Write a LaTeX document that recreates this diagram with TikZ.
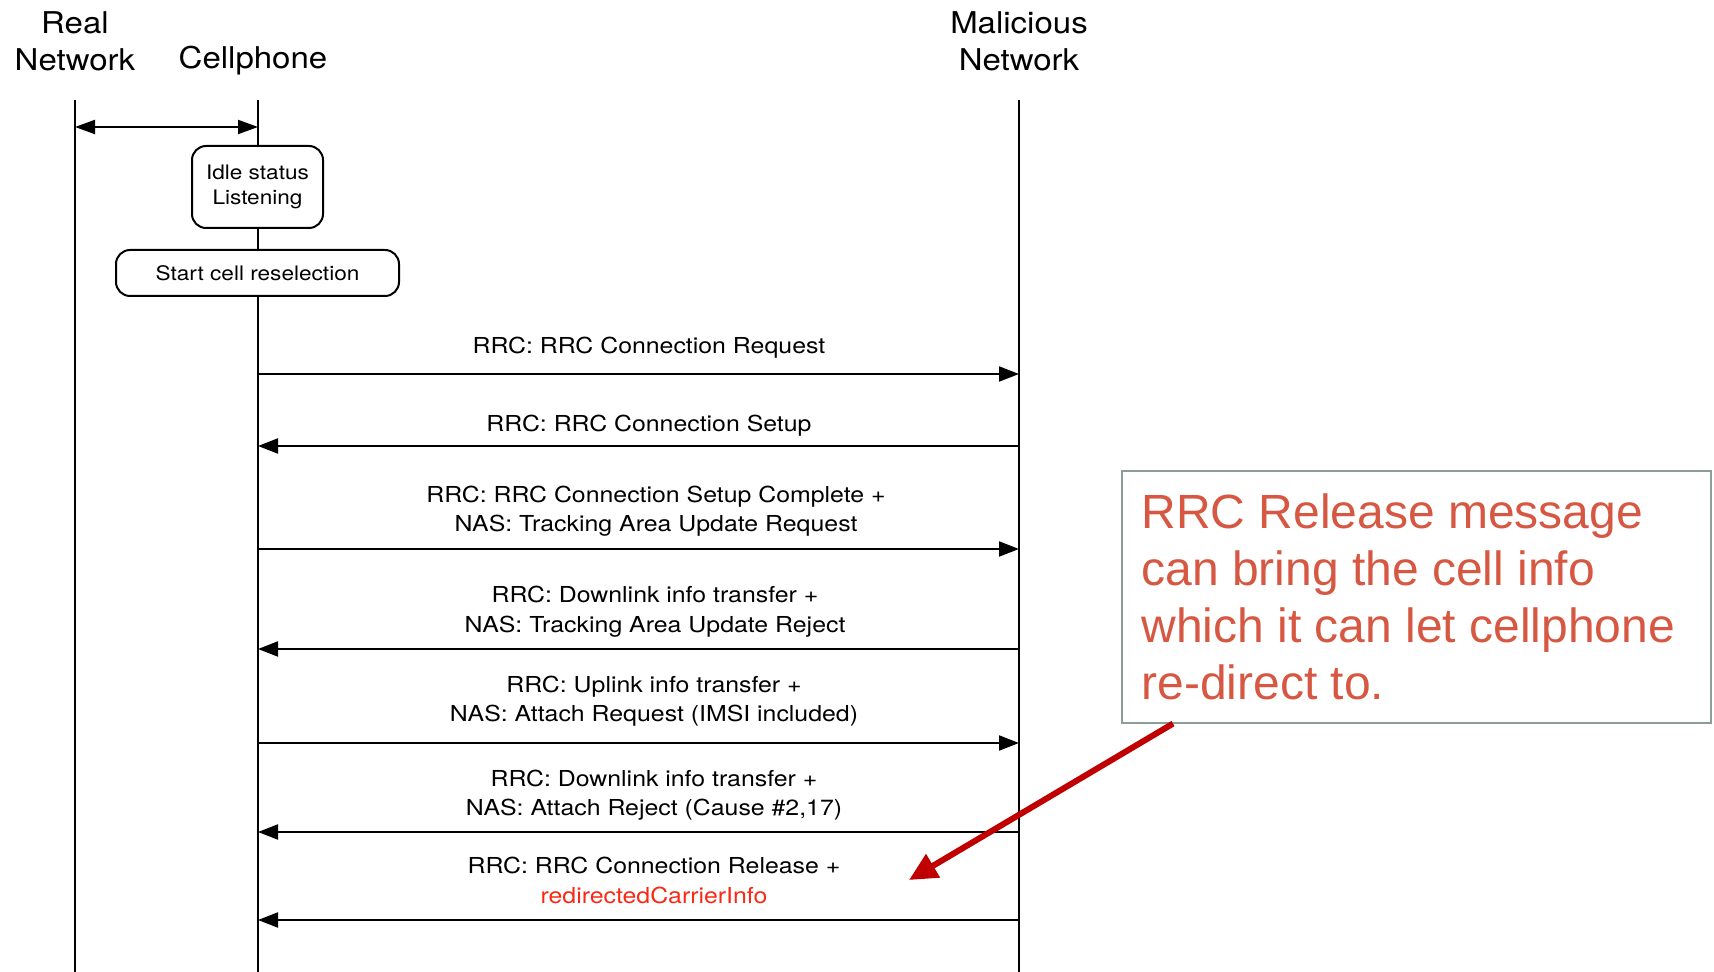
\documentclass[tikz,border=0pt]{standalone}
\usepackage{fontspec}
\usetikzlibrary{arrows.meta}
\newfontfamily\diagfont[FakeStretch=1.13]{TeX Gyre Heros}
\newfontfamily\headfont[FakeStretch=1.1]{TeX Gyre Heros}
\newfontfamily\notefont{Liberation Sans}
\definecolor{notered}{RGB}{215,88,66}
\definecolor{noteedge}{RGB}{140,158,150}
\definecolor{infored}{RGB}{250,40,20}
\definecolor{pointred}{RGB}{192,0,0}
\tikzset{
  life/.style={line width=1pt},
  msg/.style={line width=1pt, -{Triangle[length=10pt,width=7.5pt]}},
  msglabel/.style={font=\diagfont\fontsize{11}{14.7}\selectfont, align=center, inner sep=0pt},
  head/.style={font=\headfont\fontsize{15}{18.5}\selectfont, align=center, inner sep=0pt},
  statebox/.style={draw, line width=1pt, fill=white, rounded corners=7pt, align=center,
    font=\diagfont\fontsize{10}{12.5}\selectfont, inner sep=0pt},
  notebox/.style={draw=noteedge, line width=0.8pt, fill=white, inner sep=0pt},
  notetext/.style={font=\notefont\fontsize{24}{28.5}\selectfont, text=notered, align=left, inner sep=0pt},
  pointer/.style={draw=pointred, line width=3pt, -{Triangle[length=14pt,width=13pt]}}
}
\begin{document}
\begin{tikzpicture}[x=0.5pt,y=-0.5pt]
\useasboundingbox (0,0) rectangle (1714,972);
% Participants
\node[head] (real) at (75,41.5) {Real\\Network};
\node[head] (phone) at (253,61) {Cellphone};
\node[head] (evil) at (1019,41.5) {Malicious\\Network};
% Lifelines
\coordinate (realtop) at (75,100);
\coordinate (realbot) at (75,972);
\coordinate (phonetop) at (258,100);
\coordinate (phonebot) at (258,972);
\coordinate (eviltop) at (1019,100);
\coordinate (evilbot) at (1019,972);
\draw[life] (realtop) -- (realbot);
\draw[life] (phonetop) -- (phonebot);
\draw[life] (eviltop) -- (evilbot);
% Camped on the real network
\coordinate (rl) at (75,127);
\coordinate (pl) at (258,127);
\draw[life, {Triangle[length=10pt,width=7pt]}-{Triangle[length=10pt,width=7pt]}] (rl) -- (pl);
% Cellphone states
\node[statebox, minimum width=65.5pt, minimum height=41pt] (idle) at (257.5,187) {Idle status\\Listening};
\node[statebox, minimum width=141.5pt, minimum height=23pt] (resel) at (257.5,273) {Start cell reselection};
% Messages
\foreach \i/\y in {1/374,2/446,3/549,4/649,5/743,6/832,7/920} {
  \coordinate (cp\i) at (258,\y);
  \coordinate (mn\i) at (1019,\y);
}
\foreach \i in {1,3,5} \draw[msg] (cp\i) -- (mn\i);
\foreach \i in {2,4,6,7} \draw[msg] (mn\i) -- (cp\i);
\node[msglabel] (lbl1) at (649,348) {RRC: RRC Connection Request};
\node[msglabel] (lbl2) at (649,426) {RRC: RRC Connection Setup};
\node[msglabel] (lbl3) at (656,511) {RRC: RRC Connection Setup Complete +\\NAS: Tracking Area Update Request};
\node[msglabel] (lbl4) at (655,611.5) {RRC: Downlink info transfer +\\NAS: Tracking Area Update Reject};
\node[msglabel] (lbl5) at (654,701) {RRC: Uplink info transfer +\\NAS: Attach Request (IMSI included)};
\node[msglabel] (lbl6) at (654,795) {RRC: Downlink info transfer +\\NAS: Attach Reject (Cause \#2,17)};
\node[msglabel] (lbl7) at (654,880.5) {RRC: RRC Connection Release +\\\textcolor{infored}{redirectedCarrierInfo}};
% Callout
\node[notebox, anchor=north west, minimum width=294.5pt, minimum height=126pt] (note) at (1121,470) {};
\node[notetext, anchor=west] (notetxt) at ([xshift=10pt]note.west) {RRC Release message\\can bring the cell info\\which it can let cellphone\\re-direct to.};
\coordinate (target) at (909,880);
\draw[pointer] ([xshift=26pt]note.south west) -- (target);
\end{tikzpicture}
\end{document}
